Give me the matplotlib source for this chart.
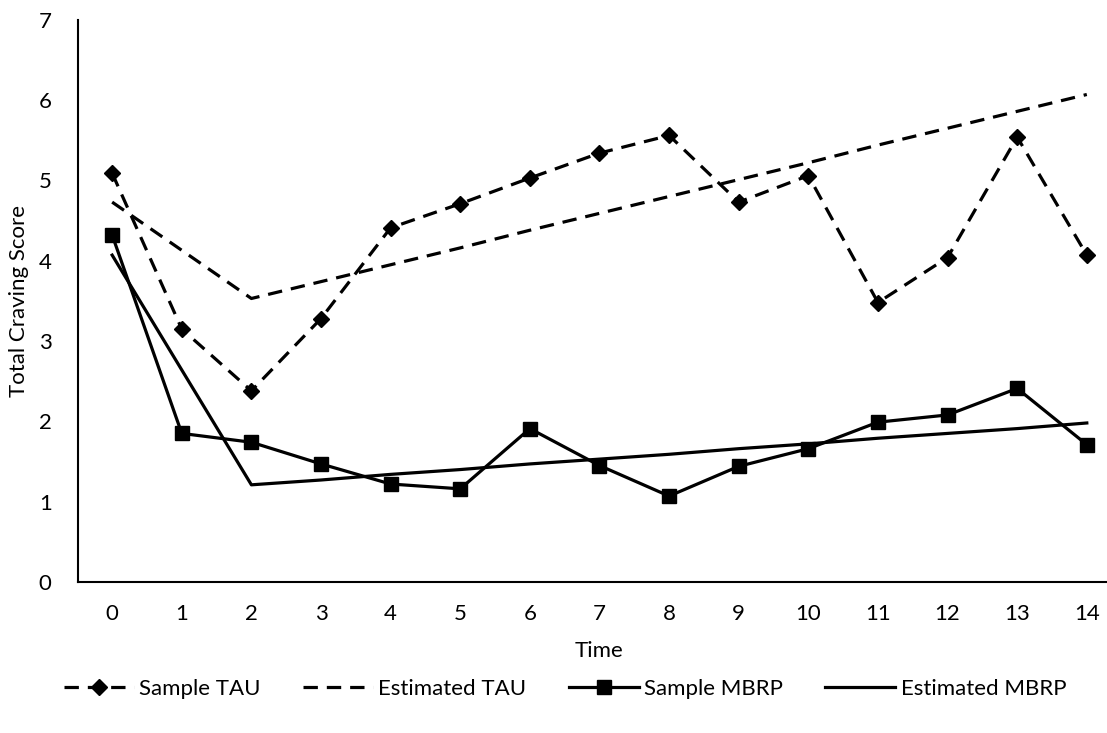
import matplotlib
matplotlib.use("Agg")
import matplotlib.pyplot as plt

plt.rcParams['font.family'] = ['Lato', 'DejaVu Sans']

time = list(range(15))
time_labels = [str(t) for t in time]
sample_tau = [5.09, 3.15, 2.38, 3.28, 4.41, 4.71, 5.03, 5.34, 5.56, 4.73, 5.06, 3.48, 4.04, 5.54, 4.07]
estimated_tau = [4.73, 4.13, 3.53, 3.74, 3.95, 4.16, 4.38, 4.59, 4.80, 5.01, 5.22, 5.44, 5.65, 5.86, 6.07]
sample_mbrp = [4.32, 1.85, 1.74, 1.47, 1.22, 1.16, 1.91, 1.45, 1.07, 1.44, 1.66, 1.99, 2.08, 2.41, 1.71]
estimated_mbrp = [4.07, 2.64, 1.21, 1.27, 1.34, 1.40, 1.47, 1.53, 1.59, 1.66, 1.72, 1.79, 1.85, 1.91, 1.98]

fs = 16
fig = plt.figure(figsize=(11.07, 7.33), dpi=100)
ax = fig.add_axes([0.0705, 0.206, 0.9295, 0.767])

lw = 2.3
dash = (4.5, 2.8)
ax.plot(time, sample_tau, color='black', lw=lw, dashes=dash, marker='D', ms=8.5,
        label='Sample TAU')
ax.plot(time, estimated_tau, color='black', lw=lw, dashes=dash, label='Estimated TAU')
ax.plot(time, sample_mbrp, color='black', lw=lw, marker='s', ms=10, label='Sample MBRP')
ax.plot(time, estimated_mbrp, color='black', lw=lw, label='Estimated MBRP')

ax.set_xlim(-0.49, 14.29)
ax.set_ylim(0, 7)
ax.set_xticks(time)
ax.set_xticklabels(time_labels)
ax.set_yticks(range(8))
ax.tick_params(axis='both', length=0, labelsize=fs, colors='black')
ax.tick_params(axis='y', pad=19)
ax.tick_params(axis='x', pad=16)
for s in ['top', 'right']:
    ax.spines[s].set_visible(False)
for s in ['left', 'bottom']:
    ax.spines[s].set_linewidth(1.5)
    ax.spines[s].set_color('black')

ax.set_xlabel('Time', fontsize=fs)
ax.set_ylabel('Total Craving Score', fontsize=fs)
ax.xaxis.set_label_coords((599 - 78) / 1029, -0.105)
ax.yaxis.set_label_coords(-0.048, 0.5)

fig.legend(loc='center', bbox_to_anchor=(565 / 1107, 1 - 689 / 733), ncol=4,
           frameon=False, fontsize=fs, handlelength=3.15, handletextpad=0.25,
           columnspacing=1.9)

fig.savefig('out.png', dpi=100)
